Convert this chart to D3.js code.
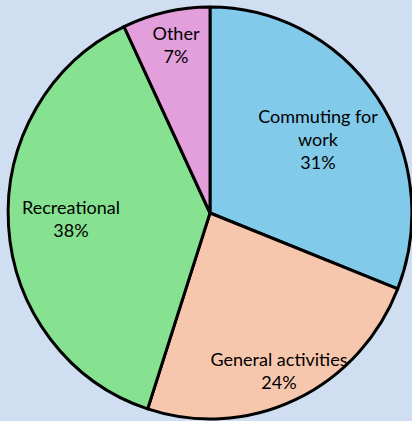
<!DOCTYPE html>
<html>
<head>
<meta charset="utf-8">
<script src="https://cdn.jsdelivr.net/npm/d3@7"></script>
<style>
  html, body { margin: 0; padding: 0; background: #cfdef0; }
  svg { display: block; }
</style>
</head>
<body>
<div id="chart"></div>
<script>
var categories = ["Commuting for work", "General activities", "Recreational", "Other"];
var values = [31, 24, 38, 7];
var labelLines = [["Commuting for", "work", "31%"], ["General activities", "24%"], ["Recreational", "38%"], ["Other", "7%"]];
var colors = ["#82caea", "#f6c7ad", "#86e291", "#e39fdc"];

var svgWidth = 412;
var svgHeight = 421;
var cx = 210;
var cy = 213;
var radius = 206;
var lineH = 23;

// label anchor (x, y of first baseline) per slice
var labelPos = [[318, 123], [279, 366], [71, 214], [176, 40]];

var svg = d3.select("#chart")
    .append("svg")
    .attr("width", svgWidth)
    .attr("height", svgHeight);

svg.append("rect")
    .attr("width", svgWidth)
    .attr("height", svgHeight)
    .attr("fill", "#cfdef0");

var data = categories.map((c, i) => ({name: c, value: values[i], lines: labelLines[i], color: colors[i], pos: labelPos[i]}));

var pie = d3.pie()
    .value(d => d.value)
    .sort(null);

var arc = d3.arc()
    .innerRadius(0)
    .outerRadius(radius);

var g = svg.append("g")
    .attr("transform", `translate(${cx},${cy}) scale(0.98,1)`);

g.selectAll("path")
    .data(pie(data))
    .enter()
    .append("path")
    .attr("d", arc)
    .attr("fill", d => d.data.color)
    .attr("stroke", "black")
    .attr("stroke-width", 3)
    .attr("stroke-linejoin", "round");

var labels = svg.append("g").selectAll("text")
    .data(data)
    .enter()
    .append("text")
    .attr("text-anchor", "middle")
    .attr("font-family", "Lato, sans-serif")
    .attr("font-size", "18px")
    .attr("fill", "#000");

labels.each(function(d) {
    var t = d3.select(this);
    d.lines.forEach((l, i) => {
        t.append("tspan")
            .attr("x", d.pos[0])
            .attr("y", d.pos[1] + i * lineH)
            .text(l);
    });
});
</script>
</body>
</html>
